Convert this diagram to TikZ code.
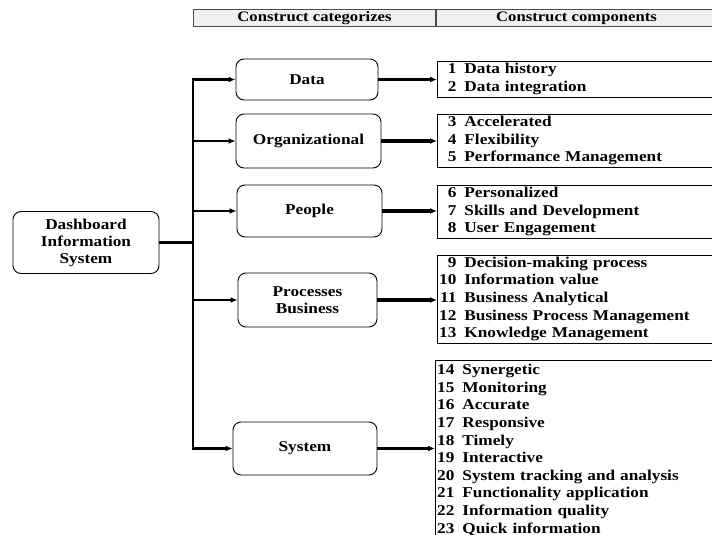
\documentclass[tikz,border=0pt]{standalone}
\usepackage{fontspec}
\setmainfont{Liberation Serif}[FakeStretch=1.15]
\usetikzlibrary{positioning,arrows.meta}
\tikzset{
	cat/.style={draw, line width=0.9pt, rounded corners=8pt, align=center, inner sep=0pt,
		font=\fontsize{15}{17}\selectfont\bfseries},
	comp/.style={draw, line width=0.9pt, anchor=west, text width=290pt, align=left,
		inner xsep=4pt, inner ysep=0pt, font=\fontsize{15}{17.6}\selectfont\bfseries},
	head/.style={draw=black!70, line width=1pt, fill=black!6, inner sep=0pt, minimum height=17pt,
		anchor=north west, font=\fontsize{14.5}{15}\selectfont\bfseries},
	link/.style={line width=2.2pt, -{Latex[length=7pt,width=6pt]}},
	feed/.style={line width=3.2pt, -{Latex[length=7pt,width=6pt]}}
}
\newcommand{\ci}[2]{\makebox[15pt][r]{#1}\hspace{8pt}#2}

\begin{document}
\begin{tikzpicture}[x=1pt,y=-1pt]
\useasboundingbox (0,0) rectangle (712,535);

%Entetes
\node[head, minimum width=242pt] (hcat) at (193,9) {Construct categorizes};
\node[head, minimum width=280pt] (hcomp) at (hcat.north east) {Construct components};

%Boites
\node[cat, minimum width=146pt, minimum height=62pt] (dis) at (86,242.5) {Dashboard\\Information\\System};
\node[cat, minimum width=142pt, minimum height=41pt] (data) at (307,79.5) {Data};
\node[cat, minimum width=145pt, minimum height=54pt] (org) at (308.5,141) {Organizational};
\node[cat, minimum width=145pt, minimum height=52pt] (peo) at (309.5,211) {People};
\node[cat, minimum width=139pt, minimum height=54pt] (proc) at (307.5,300) {Processes\\Business};
\node[cat, minimum width=144pt, minimum height=53pt] (sys) at (305,448.5) {System};

%Composants
\node[comp, minimum height=36pt] (cdata) at (437,79) {\ci{1}{Data history}\\\ci{2}{Data integration}};
\node[comp, minimum height=53pt] (corg) at (437,140.5) {\ci{3}{Accelerated}\\\ci{4}{Flexibility}\\\ci{5}{Performance Management}};
\node[comp, minimum height=53pt] (cpeo) at (437,211.5) {\ci{6}{Personalized}\\\ci{7}{Skills and Development}\\\ci{8}{User Engagement}};
\node[comp, minimum height=88pt] (cproc) at (437,299) {\ci{9}{Decision-making process}\\\ci{10}{Information value}\\\ci{11}{Business Analytical}\\\ci{12}{Business Process Management}\\\ci{13}{Knowledge Management}};
\node[comp, minimum height=180pt] (csys) at (435,450) {\ci{14}{Synergetic}\\\ci{15}{Monitoring}\\\ci{16}{Accurate}\\\ci{17}{Responsive}\\\ci{18}{Timely}\\\ci{19}{Interactive}\\\ci{20}{System tracking and analysis}\\\ci{21}{Functionality application}\\\ci{22}{Information quality}\\\ci{23}{Quick information}};

%Tronc
\coordinate (tk) at (193,0);
\draw[line width=2.8pt, line cap=rect] (tk |- data.west) -- (tk |- sys.west);
\draw[line width=2.8pt] (dis.east) -- (tk |- dis.east);

%Fleches
\foreach \c in {data,org,peo,proc,sys}
	\draw[link] (tk |- \c.west) -- (\c.west);
\foreach \c/\d in {data/cdata,org/corg,peo/cpeo,proc/cproc,sys/csys}
	\draw[feed] (\c.east) -- (\c.east -| \d.west);

\end{tikzpicture}
\end{document}
